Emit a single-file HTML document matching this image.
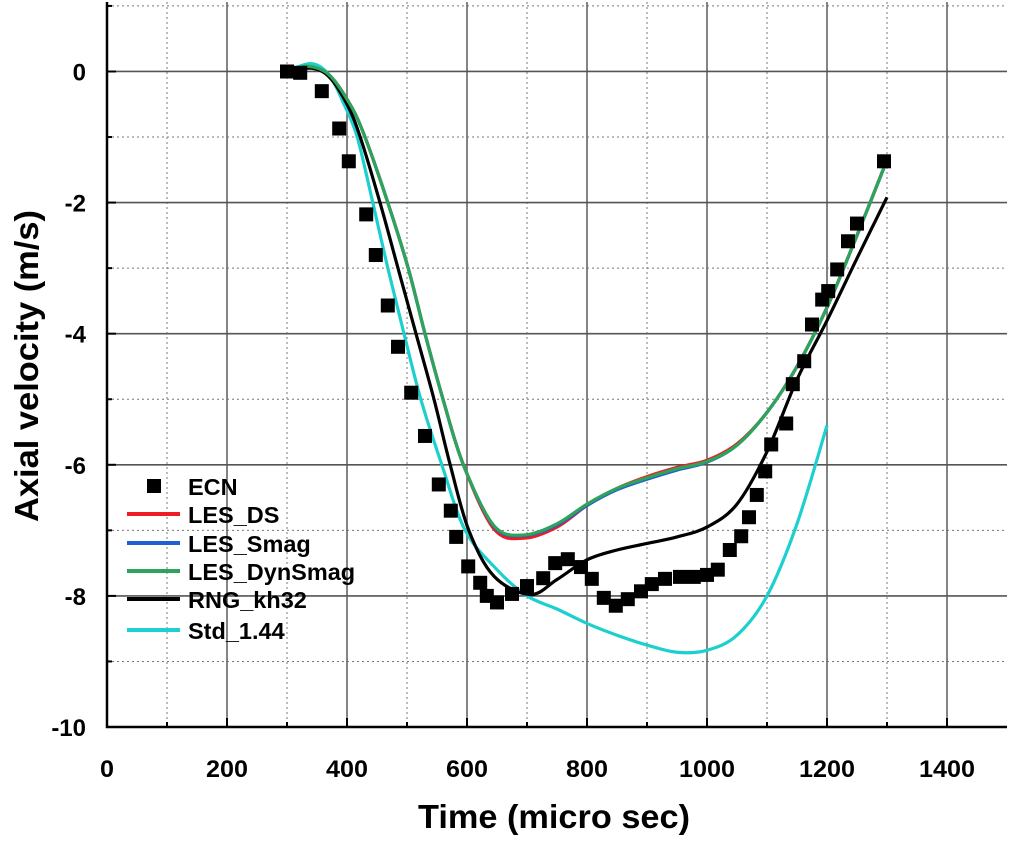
<!DOCTYPE html>
<html><head><meta charset="utf-8"><style>
html,body{margin:0;padding:0;background:#fff;}
svg text{font-family:"Liberation Sans",Arial,sans-serif;font-weight:bold;}
</style></head><body>
<svg id="chart" width="1009" height="838" viewBox="0 0 1009 838" xmlns="http://www.w3.org/2000/svg">
<g id="grid"></g>
<g id="series"></g>
<g id="axes"></g>
<g id="legend"></g>
<text x="554" y="828" text-anchor="middle" font-size="33" textLength="272" lengthAdjust="spacingAndGlyphs">Time (micro sec)</text>
<text transform="translate(38,366) rotate(-90)" text-anchor="middle" font-size="33" textLength="312" lengthAdjust="spacingAndGlyphs">Axial velocity (m/s)</text>
</svg>
<script>
const xTicks=[0,200,400,600,800,1000,1200,1400];
const yTicks=[0,-2,-4,-6,-8,-10];
const ecnT=[300,322,358,387,403,432,448,468,485,507,530,553,573,582,602,622,633,650,675,700,727,747,768,790,808,828,848,868,890,908,930,955,978,1000,1018,1038,1057,1070,1083,1097,1107,1132,1143,1162,1175,1192,1202,1217,1235,1250,1295];
const ecnV=[0,-0.02,-0.3,-0.87,-1.37,-2.18,-2.8,-3.57,-4.2,-4.9,-5.56,-6.3,-6.7,-7.1,-7.55,-7.8,-8.0,-8.1,-7.97,-7.85,-7.73,-7.5,-7.44,-7.56,-7.74,-8.03,-8.15,-8.05,-7.93,-7.82,-7.74,-7.71,-7.71,-7.68,-7.6,-7.3,-7.09,-6.8,-6.46,-6.1,-5.69,-5.37,-4.77,-4.42,-3.86,-3.48,-3.35,-3.02,-2.59,-2.32,-1.37];
const lesT=[300,335,370,405,430,468,502,530,560,594,645,695,750,800,850,900,950,1000,1050,1100,1150,1200,1250,1300];
const dsV=[0,0.08,-0.05,-0.5,-1.0,-2.0,-3.0,-4.0,-5.0,-6.0,-6.98,-7.12,-6.95,-6.62,-6.36,-6.18,-6.04,-5.93,-5.68,-5.2,-4.5,-3.6,-2.5,-1.35];
const smagV=[0,0.08,-0.05,-0.5,-1.0,-2.0,-3.0,-4.0,-5.0,-6.0,-6.94,-7.08,-6.92,-6.62,-6.38,-6.22,-6.08,-5.96,-5.7,-5.2,-4.5,-3.6,-2.5,-1.35];
const dynV=[0,0.08,-0.05,-0.5,-1.0,-2.0,-3.0,-4.0,-5.0,-6.0,-6.93,-7.07,-6.9,-6.6,-6.36,-6.2,-6.06,-5.95,-5.7,-5.2,-4.5,-3.6,-2.5,-1.35];
const rngT=[300,340,370,400,422,455,485,515,545,572,603,645,705,750,800,850,900,950,1000,1050,1100,1150,1200,1250,1300];
const rngV=[0,0.05,-0.08,-0.5,-1.0,-2.0,-3.0,-4.0,-5.0,-6.0,-7.0,-7.7,-7.98,-7.75,-7.45,-7.3,-7.2,-7.1,-6.95,-6.6,-5.8,-4.7,-3.8,-2.85,-1.92];
const stdT=[300,340,370,395,417,443,468,495,523,558,597,650,700,750,800,850,900,950,1000,1050,1100,1150,1200];
const stdV=[0,0.12,-0.05,-0.5,-1.0,-2.0,-3.0,-4.0,-5.0,-6.0,-7.0,-7.6,-8.0,-8.2,-8.42,-8.6,-8.75,-8.86,-8.83,-8.6,-8.0,-6.9,-5.4];

const X0=107,X1=1007,Y0=2,Y1=727,xmin=0,xmax=1500,ymin=-10,ymax=1.06;
const sx=v=>X0+(v-xmin)/(xmax-xmin)*(X1-X0);
const sy=v=>Y1-(v-ymin)/(ymax-ymin)*(Y1-Y0);
const NS='http://www.w3.org/2000/svg';
function mk(tag,attrs,parent){const e=document.createElementNS(NS,tag);for(const k in attrs)e.setAttribute(k,attrs[k]);parent.appendChild(e);return e;}
const grid=document.getElementById('grid'),axes=document.getElementById('axes'),series=document.getElementById('series'),legend=document.getElementById('legend');
for(let v=100;v<xmax;v+=200){const l=mk('line',{x1:sx(v),x2:sx(v),y1:Y0,y2:Y1,stroke:'#777','stroke-width':1,'stroke-dasharray':'2,3'},grid);

}
for(let v=-9;v<=1;v+=2){const l=mk('line',{x1:X0,x2:X1,y1:sy(v),y2:sy(v),stroke:'#777','stroke-width':1,'stroke-dasharray':'2,3'},grid);

}
xTicks.forEach(v=>{if(v===0)return;const l=mk('line',{x1:sx(v),x2:sx(v),y1:Y0,y2:Y1,stroke:'#666','stroke-width':1.6},grid);

});
yTicks.forEach(v=>{if(v===-10)return;const l=mk('line',{x1:X0,x2:X1,y1:sy(v),y2:sy(v),stroke:'#555','stroke-width':1.6},grid);

});
const ax=mk('path',{d:`M${X0},${Y0}V${Y1}H${X1}`,fill:'none',stroke:'#000','stroke-width':2.5},axes);


xTicks.forEach(v=>{mk('line',{x1:sx(v),x2:sx(v),y1:Y1,y2:Y1-9,stroke:'#000','stroke-width':2},axes);
const s=String(v);
const t=mk('text',{x:sx(v),y:Y1+50,'text-anchor':'middle','font-size':24,textLength:14*s.length,lengthAdjust:'spacingAndGlyphs'},axes);t.textContent=s;

});
for(let v=100;v<xmax;v+=200)mk('line',{x1:sx(v),x2:sx(v),y1:Y1,y2:Y1-5,stroke:'#000','stroke-width':2},axes);
yTicks.forEach(v=>{mk('line',{x1:X0,x2:X0+9,y1:sy(v),y2:sy(v),stroke:'#000','stroke-width':2},axes);
const t=mk('text',{x:86,y:sy(v)+9,'text-anchor':'end','font-size':24},axes);t.textContent=v;

});
for(let v=-9;v<=1;v+=2)mk('line',{x1:X0,x2:X0+5,y1:sy(v),y2:sy(v),stroke:'#000','stroke-width':2},axes);
function smooth(T,V){const p=T.map((t,i)=>[sx(t),sy(V[i])]);let d=`M${p[0][0]},${p[0][1]}`;
for(let i=0;i<p.length-1;i++){const a=p[Math.max(0,i-1)],b=p[i],c=p[i+1],e=p[Math.min(p.length-1,i+2)];
d+=` C${b[0]+(c[0]-a[0])/6},${b[1]+(c[1]-a[1])/6} ${c[0]-(e[0]-b[0])/6},${c[1]-(e[1]-b[1])/6} ${c[0]},${c[1]}`;}return d;}
const lines=[['les-ds-line',lesT,dsV,'#ee1c25'],['les-smag-line',lesT,smagV,'#1f5fd0'],['std-line',stdT,stdV,'#1ecfd0'],['rng-line',rngT,rngV,'#000'],['les-dynsmag-line',lesT,dynV,'#2ea35a']];
lines.forEach(([n,T,V,c])=>{const p=mk('path',{d:smooth(T,V),fill:'none',stroke:c,'stroke-width':3.2},series);

});
ecnT.forEach((t,i)=>{const r=mk('rect',{x:sx(t)-7,y:sy(ecnV[i])-7,width:14,height:14,fill:'#000'},series);

});
const leg=[['ECN',null],['LES_DS','#ee1c25'],['LES_Smag','#1f5fd0'],['LES_DynSmag','#2ea35a'],['RNG_kh32','#000'],['Std_1.44','#1ecfd0']];
const ly=[486,514,543,571,599,630];
leg.forEach(([n,c],i)=>{const g=mk('g',{},legend);


if(c)mk('line',{x1:127,x2:180,y1:ly[i],y2:ly[i],stroke:c,'stroke-width':4},g);else mk('rect',{x:147,y:ly[i]-7,width:14,height:14,fill:'#000'},g);
const t=mk('text',{x:188,y:ly[i]+9,'font-size':23.5},g);t.textContent=n;});
</script>
</body></html>
